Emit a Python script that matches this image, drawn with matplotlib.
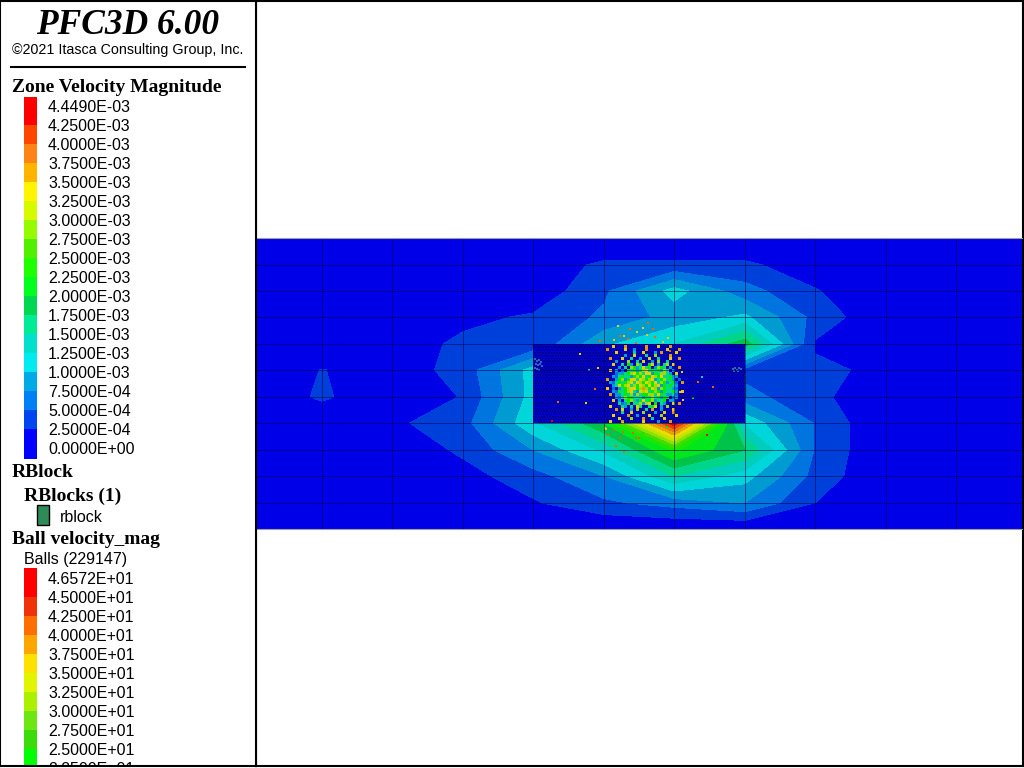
import numpy as np
import matplotlib
matplotlib.use('Agg')
import matplotlib.pyplot as plt
from matplotlib.colors import ListedColormap, BoundaryNorm, to_rgb
from matplotlib.patches import Rectangle

# Zone grid, positions
x_nodes = [252, 322, 392, 463, 533, 604, 674, 745, 815, 886, 956, 1026]
y_nodes = [239, 265, 291, 317, 344, 370, 397, 423, 450, 476, 503, 529]

# Zone velocity at the grid nodes, in units of 1e-3
zone_values = [
    [0, 0, 0, 0, 0, 0, 0, 0, 0, 0, 0, 0],
    [0, 0, 0, 0, .10, .30, .30, .30, .10, 0, 0, 0],
    [0, 0, 0, 0, .08, .45, 1.10, .60, .27, 0, 0, 0],
    [0, 0, 0, .19, .28, .55, .85, 1.05, .42, .03, 0, 0],
    [0, 0, .12, .30, .28, .95, 1.25, 1.90, .22, 0, 0, 0],
    [0, .26, .10, .35, 1.10, 1.30, 1.40, .40, .30, .20, 0, 0],
    [0, .30, 0, .27, 1.10, 1.50, 2.00, .60, .30, .10, 0, 0],
    [0, 0, .20, .40, 1.20, 2.00, 4.449, 1.20, .48, 0, 0, 0],
    [0, 0, .05, .30, .75, 1.30, 2.30, 1.75, .48, 0, 0, 0],
    [0, 0, 0, .15, .40, .75, 1.50, 1.10, .42, 0, 0, 0],
    [0, 0, 0, 0, .22, .45, .60, .75, .25, 0, 0, 0],
    [0, 0, 0, 0, 0, 0, 0, 0, 0, 0, 0, 0],
]

zone_levels = [0, .25, .5, .75, 1, 1.25, 1.5, 1.75, 2, 2.25, 2.5, 2.75, 3, 3.25,
               3.5, 3.75, 4, 4.25, 4.449]
zone_colors = ['#0000ff', '#0046f0', '#0080f5', '#00aae6', '#00ebf0', '#00e1cd',
               '#00eb96', '#00d750', '#00ff1e', '#1eff00', '#50f000', '#96fa00',
               '#d7fa00', '#fff500', '#ffb400', '#ff8214', '#ff4600', '#ff0000']

ball_levels = [0, 2.5, 5, 7.5, 10, 12.5, 15, 17.5, 20, 22.5, 25, 27.5, 30, 32.5,
               35, 37.5, 40, 42.5, 45, 46.572]
ball_colors = ['#0000ff', '#0032f0', '#0078ff', '#00aae6', '#00ebf0', '#00e1cd',
               '#00eb96', '#00d750', '#00ff1e', '#00ff00', '#3cdc0a', '#6ee614',
               '#aaf000', '#e1f500', '#ffe100', '#ffa500', '#ff6e00', '#f0320a',
               '#ff0000']

# Ball speeds in the crowded middle of the block, one letter per small cell
ball_speed = {'b': 6, 'c': 9, 't': 16, 'g': 23, 'l': 31, 'y': 36, 'o': 38, 'r': 46}
ball_rows = [
    "...y...o......o...y...o.....",
    ".o.....y..c...o......y...o..",
    "....y.....t..y...c.o....y...",
    ".......c..y...t..l....o.....",
    "..o...y..t..c..y..t...y..o..",
    "....c...l..t.y..c.l..t......",
    "...y..t.gc.lt..gy.c.tl.y....",
    ".....c.t.lgctytg.clgt.c..o..",
    "..y.c.b.gtgcglytgtgclt.c....",
    "....bcctglygltyycgtlltc.y...",
    "...cbtgttcglgytgylgyttgcc...",
    ".o..cglcgyytylglyctgltgc.b..",
    "..cbtgtglytylgylgytlgctgb.o.",
    "...ctyglytlgylgyglycgtgtc...",
    ".y.b.ctglyyglolgylclgttcb...",
    "...cbgtglytcylytglgcgttgc.y.",
    "..o.cctgtlcltgglltygtcctb...",
    "....cbtlggtttcgtltgcgg.bc...",
    "...y.c.tgltcgytglcttg.cc....",
    ".....tbcg.ttlcly.g.tc..y.o..",
    "..y...tc.t.yt..tgy.c.l......",
    "....o.y..c.l..t.o..c...y....",
    "......t..y...l...c..y..o....",
    "...y....o..c...y...l....y...",
    ".....y...l...o..t...y.......",
    "..y...o......y....c...o.....",
]

# Single balls outside the crowded part
ball_x = [618, 648, 643, 653, 630, 637, 620, 624, 614, 628, 647, 655, 668, 663, 636, 600,
          605, 614, 608, 623, 633, 643, 639, 655, 620, 667, 707, 624, 616, 606, 623, 636,
          558, 552, 586, 595, 580, 598, 589, 713, 698, 680, 683, 682, 670, 693, 702]
ball_y = [326, 323, 328, 329, 329, 332, 336, 336, 340, 339, 335, 337, 338, 342, 343, 341,
          428, 430, 435, 423, 433, 433, 438, 428, 438, 427, 435, 452, 446, 429, 432, 438,
          402, 421, 403, 389, 354, 368, 370, 387, 382, 392, 400, 372, 351, 398, 377]
ball_v = [36, 41, 36, 41, 41, 36, 41, 36, 36, 41, 36, 41, 36, 36, 41, 41,
          36, 41, 41, 36, 41, 23, 41, 36, 41, 23, 46, 41, 41, 36, 41, 41,
          41, 46, 36, 41, 36, 36, 17, 41, 41, 36, 36, 36, 41, 23, 11]

clump_x = [535, 537, 539, 541, 536, 538, 540, 542, 535, 537, 539, 733, 735, 737, 739, 741, 734, 738]
clump_y = [359, 361, 360, 362, 364, 365, 364, 366, 368, 369, 370, 369, 368, 370, 368, 369, 371, 371]

# Picture shades the model a little darker than the legend
zone_shaded = ListedColormap([tuple(0.91 * c for c in to_rgb(h)) for h in zone_colors])
ball_cmap = ListedColormap([tuple(0.92 * c for c in to_rgb(h)) for h in ball_colors])
ball_norm = BoundaryNorm(ball_levels, ball_cmap.N)

fig = plt.figure(figsize=(10.24, 7.68), dpi=100)
ax = fig.add_axes([256 / 1024, 2 / 768, 767 / 1024, 765 / 768])
ax.set_xlim(256, 1023)
ax.set_ylim(766, 1)
ax.set_xticks([])
ax.set_yticks([])
for s in ax.spines.values():
    s.set_linewidth(1.5)

ax.contourf(x_nodes, y_nodes, np.array(zone_values), levels=zone_levels,
            cmap=zone_shaded, norm=BoundaryNorm(zone_levels, 18), antialiased=False, zorder=1)

# rblock seen through the balls
plt.rcParams['hatch.linewidth'] = 0.7
ax.add_patch(Rectangle((533, 344), 212, 79, facecolor='#0000d2', edgecolor='#000050',
                       hatch='......', linewidth=0, zorder=2))

cells = np.full((len(ball_rows), 28), np.nan)
for i, row in enumerate(ball_rows):
    for j, ch in enumerate(row):
        if ch in ball_speed:
            cells[i, j] = ball_speed[ch]
ax.pcolormesh(np.linspace(603, 687, 29), np.linspace(345, 423, 27), np.ma.masked_invalid(cells),
              cmap=ball_cmap, norm=ball_norm, zorder=3)
ax.scatter(ball_x, ball_y, c=ball_v, cmap=ball_cmap, norm=ball_norm, marker='s', s=3,
           linewidths=0, zorder=4)
ax.scatter(clump_x, clump_y, c='#2a6ab0', marker='s', s=1.5, linewidths=0, zorder=4)
ax.plot([745, 745], [374, 397], color='#006060', lw=1, zorder=4)

ax.vlines(x_nodes[1:-1], y_nodes[0], y_nodes[-1], color='#000050', lw=0.7, alpha=0.55, zorder=5)
ax.hlines(y_nodes[1:-1], 256, 1023, color='#000050', lw=0.7, alpha=0.55, zorder=5)
ax.hlines([y_nodes[0] - 0.5, y_nodes[-1] + 0.5], 256, 1023, color='#a0a0a0', lw=0.8, zorder=5)

# Legend panel
lg = fig.add_axes([0, 2 / 768, 256 / 1024, 765 / 768])
lg.set_xlim(0, 256)
lg.set_ylim(766, 1)
lg.set_xticks([])
lg.set_yticks([])
for s in lg.spines.values():
    s.set_linewidth(1.5)

serif = 'Liberation Serif'
sans = 'Liberation Sans'
lg.text(128, 34, 'PFC3D 6.00', family=serif, style='italic', weight='bold', fontsize=25.5,
        ha='center', va='baseline')
lg.text(128, 54, '©2021 Itasca Consulting Group, Inc.', family=sans, fontsize=10.3,
        ha='center', va='baseline')
lg.plot([11, 245], [67, 67], color='black', lw=1.5)


def color_bar(top, first_label, levels, colors, scale):
    # levels run high to low, swatch edges sit at the labels
    n = len(colors)
    for i in range(n):
        y0 = top if i == 0 else first_label + 18 + 19 * (i - 1)
        y1 = first_label + 18 + 19 * i
        if i == n - 1:
            y1 += 11
        lg.add_patch(Rectangle((24, y0), 13, y1 - y0, facecolor=colors[i], edgecolor='none'))
    for i, v in enumerate(levels):
        y = first_label + 5 + 19 * i
        if y < 780:
            lg.text(48, y, f'{v * scale:.4E}', family=sans, fontsize=11.5,
                    va='baseline', clip_on=True)


lg.text(12, 92, 'Zone Velocity Magnitude', family=serif, weight='bold', fontsize=14, va='baseline')
color_bar(97, 107, zone_levels[::-1], zone_colors[::-1], 1e-3)

lg.text(12, 477, 'RBlock', family=serif, weight='bold', fontsize=14, va='baseline')
lg.text(24, 501, 'RBlocks (1)', family=serif, weight='bold', fontsize=14, va='baseline')
lg.add_patch(Rectangle((36.5, 505.5), 12, 20, facecolor='#2e8b57', edgecolor='black', lw=1))
lg.text(60, 522, 'rblock', family=sans, fontsize=11.5, va='baseline')
lg.text(12, 544, 'Ball velocity_mag', family=serif, weight='bold', fontsize=14, va='baseline')
lg.text(24, 564, 'Balls (229147)', family=sans, fontsize=11.5, va='baseline')
color_bar(568, 579, ball_levels[::-1], ball_colors[::-1], 1)

fig.savefig('out.png', dpi=100)
